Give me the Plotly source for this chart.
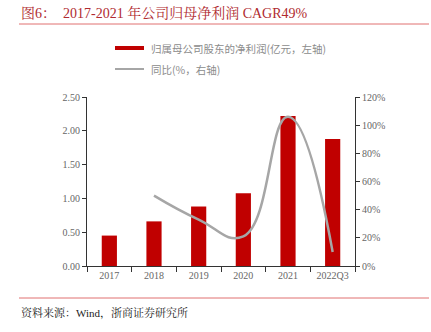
import plotly.graph_objects as go

# Net profit attributable to parent (100m CNY) and YoY growth (%)
categories = ["2017", "2018", "2019", "2020", "2021", "2022Q3"]
net_profit = [0.45, 0.66, 0.88, 1.075, 2.22, 1.88]
yoy_categories = ["2018", "2019", "2020", "2021", "2022Q3"]
yoy_growth = [50, 33, 21, 106, 10]

left_ticks = [0, 0.5, 1.0, 1.5, 2.0, 2.5]
right_ticks = [0, 20, 40, 60, 80, 100, 120]
right_labels = [f"{v}%" for v in right_ticks]

W, H = 431, 332
L, R, T, B = 87, 355, 97, 266

def px(x):
    return (x - L) / (R - L)

def py(y):
    return (B - y) / (B - T)

SERIF = "Liberation Serif, Noto Serif CJK SC, Noto Sans CJK SC"
CJK = "Noto Sans CJK SC"
GRAY_TXT = "#666666"
BAR_RED = "#c00000"
LINE_GRAY = "#a6a6a6"

fig = go.Figure()
fig.add_trace(go.Bar(
    x=categories, y=net_profit, marker_color=BAR_RED, width=0.34,
    marker_line_width=0, yaxis="y", showlegend=False,
))
fig.add_trace(go.Scatter(
    x=yoy_categories, y=yoy_growth, mode="lines",
    line=dict(color=LINE_GRAY, width=2.5, shape="spline", smoothing=1.3),
    yaxis="y2", showlegend=False,
))

axis_common = dict(
    showgrid=False, zeroline=False, showline=True, linecolor="#333333",
    linewidth=1, ticks="outside", tickcolor="#333333",
    tickfont=dict(family=SERIF, size=10, color=GRAY_TXT),
)

fig.update_layout(
    width=W, height=H,
    margin=dict(l=L, r=W - R, t=T, b=H - B),
    paper_bgcolor="white", plot_bgcolor="white",
    xaxis=dict(**axis_common, tickson="boundaries", ticklen=5),
    yaxis=dict(**axis_common, ticklen=4, range=[0, 2.5],
               tickvals=left_ticks, tickformat=".2f"),
    yaxis2=dict(**axis_common, ticklen=4, range=[0, 120],
                tickmode="array", tickvals=right_ticks, ticktext=right_labels,
                overlaying="y", side="right"),
)

shapes = [
    # rule under the heading and above the source note
    dict(type="line", xref="paper", yref="paper", x0=px(19), x1=px(429),
         y0=py(24), y1=py(24), line=dict(color="#e07070", width=1)),
    dict(type="line", xref="paper", yref="paper", x0=px(19), x1=px(429),
         y0=py(298), y1=py(298), line=dict(color="#e07070", width=1)),
    # legend swatches
    dict(type="rect", xref="paper", yref="paper", x0=px(115), x1=px(144),
         y0=py(50), y1=py(46), fillcolor=BAR_RED, line=dict(width=0)),
    dict(type="line", xref="paper", yref="paper", x0=px(115), x1=px(144),
         y0=py(69), y1=py(69), line=dict(color=LINE_GRAY, width=2)),
]

annotations = [
    dict(text="图6：  2017-2021 年公司归母净利润 CAGR49%", xref="paper",
         yref="paper", x=px(19), y=py(13), xanchor="left", yanchor="middle",
         showarrow=False, font=dict(family=SERIF, size=14, color="#b02a30")),
    dict(text="归属母公司股东的净利润(亿元，左轴)", xref="paper", yref="paper",
         x=px(149), y=py(48), xanchor="left", yanchor="middle",
         showarrow=False, font=dict(family=CJK, size=10.5, color="#8c8c8c")),
    dict(text="同比(%，右轴)", xref="paper", yref="paper",
         x=px(149), y=py(69), xanchor="left", yanchor="middle",
         showarrow=False, font=dict(family=CJK, size=10.5, color="#8c8c8c")),
    dict(text="资料来源：Wind，浙商证券研究所", xref="paper", yref="paper",
         x=px(19), y=py(313), xanchor="left", yanchor="middle",
         showarrow=False, font=dict(family=SERIF, size=11, color="#222222")),
]

fig.update_layout(shapes=shapes, annotations=annotations)
fig.write_html("out.html")
